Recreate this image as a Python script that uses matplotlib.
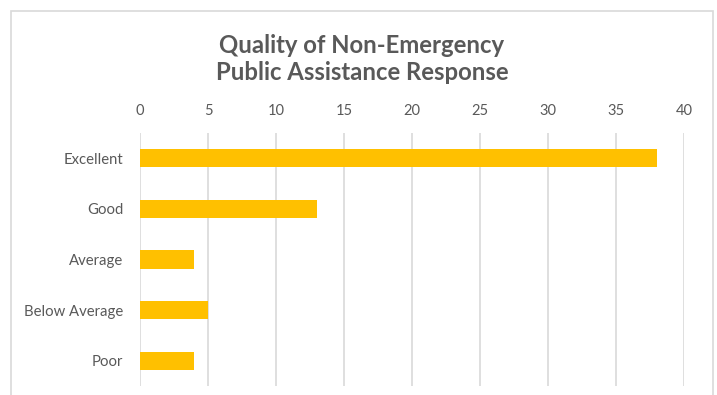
import matplotlib.pyplot as plt
from matplotlib.patches import Rectangle

# survey results
categories = ['Excellent', 'Good', 'Average', 'Below Average', 'Poor']
counts = [38, 13, 4, 5, 4]
x_ticks = [0, 5, 10, 15, 20, 25, 30, 35, 40]

plt.rcParams['font.family'] = ['Lato', 'DejaVu Sans']
text_color = '#595959'
grid_color = '#D9D9D9'

fig = plt.figure(figsize=(7.17, 3.95), dpi=100)

# chart border
fig.patches.append(Rectangle((11 / 717, -0.05), 702 / 717, 1.05 - 11 / 395,
                             transform=fig.transFigure, fill=False,
                             edgecolor=grid_color, linewidth=1.2))

ax = fig.add_axes([140 / 717, 1 - 386 / 395, 544 / 717, 253 / 395])
ax.barh(range(len(categories)), counts, height=0.36, color='#FFC000', zorder=3)

ax.set_xlim(0, 40)
ax.set_ylim(len(categories) - 0.5, -0.5)
ax.set_xticks(x_ticks)
ax.set_yticks(range(len(categories)))
ax.set_yticklabels(categories)
ax.xaxis.tick_top()
ax.tick_params(axis='x', length=0, pad=11, labelsize=10.5, labelcolor=text_color)
ax.tick_params(axis='y', length=0, pad=12, labelsize=10.7, labelcolor=text_color)
ax.grid(axis='x', color=grid_color, linewidth=1.2, zorder=0)
for s in ax.spines.values():
    s.set_visible(False)

fig.text(362 / 717, 1 - 59 / 395, 'Quality of Non-Emergency\nPublic Assistance Response',
         ha='center', va='center', fontsize=17.2, fontweight='bold',
         color=text_color, linespacing=1.25)

fig.savefig('out.png', dpi=100)
